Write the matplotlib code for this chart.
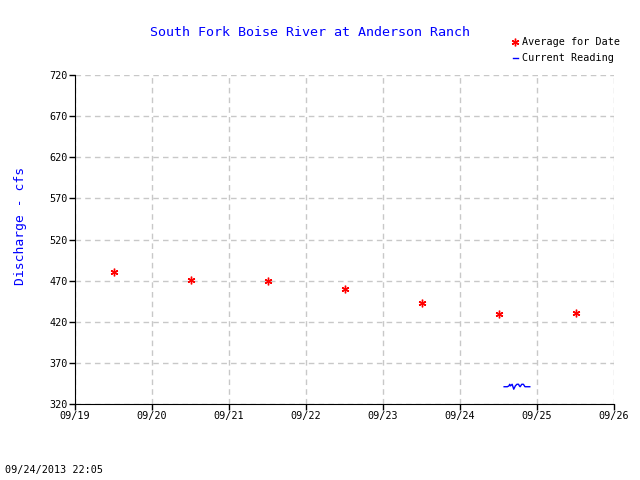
import numpy as np
from matplotlib import pyplot as plt

# daily average for date (plotted at noon)
avg_days = [19.5, 20.5, 21.5, 22.5, 23.5, 24.5, 25.5]
avg_cfs = [480, 471, 470, 460, 443, 430, 431]

# current readings on 09/24 (hour of day, cfs)
cur_hours = [13.75, 14.25, 14.75, 15.25, 15.5, 15.75, 16.25, 16.5, 16.75, 17.25,
             17.75, 18.25, 18.5, 18.75, 19.25, 19.75, 20.25, 20.75, 21.25, 21.75]
cur_cfs = [341, 341, 341, 342, 344, 342, 344, 341, 338, 342,
           344, 344, 342, 341, 344, 344, 341, 341, 341, 341]

tick_days = [19, 20, 21, 22, 23, 24, 25, 26]
tick_labels = ["09/%d" % d for d in tick_days]
yticks = [320, 370, 420, 470, 520, 570, 620, 670, 720]

plt.rcParams['font.family'] = 'DejaVu Sans Mono'
fig = plt.figure(figsize=(6.4, 4.8), dpi=100)
ax = fig.add_axes([75/640, 1-404/480, (614-75)/640, (404-75)/480])

cur_x = [24 + h/24.0 for h in cur_hours]
ax.plot(cur_x, cur_cfs, color='blue', lw=1, label='Current Reading')
ax.plot(avg_days, avg_cfs, ls='none', marker=(6, 2, 0), ms=5.5, mew=1,
        color='red', label='Average for Date')

ax.set_xlim(19, 26)
ax.set_ylim(320, 720)
ax.set_xticks(tick_days)
ax.set_xticklabels(tick_labels, fontsize=7.3)
ax.set_yticks(yticks)
ax.set_yticklabels([str(v) for v in yticks], fontsize=7.3)
ax.tick_params(direction='out', length=4, width=1, pad=1)
ax.grid(True, color='#c8c8c8', ls=(0, (4, 3)), lw=1)
ax.spines['top'].set_visible(False)
ax.spines['right'].set_visible(False)
ax.set_ylabel('Discharge - cfs', color='blue', fontsize=9.4)
ax.yaxis.set_label_coords(-(75-27)/539, (404-226)/329)

fig.text(310/640, 1-33/480, 'South Fork Boise River at Anderson Ranch',
         color='blue', fontsize=9.6, ha='center', va='center')

h, l = ax.get_legend_handles_labels()
fig.legend(h[::-1], l[::-1], loc='upper right', bbox_to_anchor=(625/640, 1-32/480),
           frameon=False, fontsize=7.3, handlelength=0.5, handletextpad=0.4,
           labelspacing=0.6, borderpad=0)

fig.text(5/640, 1-470/480, '09/24/2013 22:05', fontsize=7.3, va='center')

fig.savefig('out.png', dpi=100)
